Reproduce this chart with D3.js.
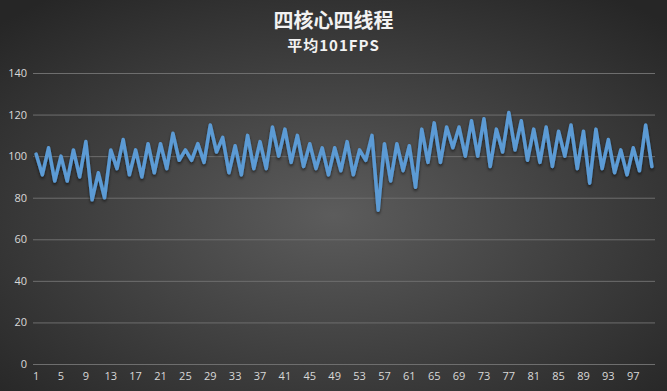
<!DOCTYPE html>
<html>
<head>
<meta charset="utf-8">
<script src="https://cdn.jsdelivr.net/npm/d3@7/dist/d3.min.js"></script>
<style>
  html, body { margin: 0; padding: 0; background: #2a2a2a; }
  svg { display: block; }
</style>
</head>
<body>
<div id="chart"></div>
<script>
// frame numbers 1..100 and fps per frame
const frames = d3.range(1, 101)
const fps = [
  101, 91, 104, 88, 100, 88, 103, 90, 107, 79,
  92, 80, 103, 94, 108, 91, 103, 90, 106, 92,
  106, 94, 111, 98, 103, 98, 106, 97, 115, 102,
  109, 92, 105, 91, 110, 94, 107, 94, 114, 100,
  113, 97, 110, 95, 106, 94, 104, 91, 104, 93,
  107, 91, 103, 98, 110, 74, 106, 88, 106, 93,
  105, 85, 113, 97, 116, 97, 114, 104, 114, 100,
  117, 100, 118, 95, 113, 102, 121, 103, 117, 98,
  113, 97, 114, 95, 112, 100, 115, 94, 112, 87,
  113, 94, 108, 92, 103, 91, 104, 93, 115, 95
]
const yTicks = [0, 20, 40, 60, 80, 100, 120, 140]
const xTickLabels = d3.range(1, 101, 4)

const title = "四核心四线程"
const subtitle = "平均101FPS"

const dimensions = {
  width: 667,
  height: 391,
  margin: { top: 73, right: 12, bottom: 27, left: 33 }
}
dimensions.boundedWidth = dimensions.width - dimensions.margin.left - dimensions.margin.right
dimensions.boundedHeight = dimensions.height - dimensions.margin.top - dimensions.margin.bottom

const wrapper = d3.select("#chart")
  .append("svg")
  .attr("width", dimensions.width)
  .attr("height", dimensions.height)

const defs = wrapper.append("defs")
const bg = defs.append("radialGradient")
  .attr("id", "bg")
  .attr("cx", "50%").attr("cy", "55%").attr("r", "70%")
bg.append("stop").attr("offset", "0%").attr("stop-color", "#5c5c5c")
bg.append("stop").attr("offset", "100%").attr("stop-color", "#262626")

const shadow = defs.append("filter")
  .attr("id", "shadow")
  .attr("x", "-5%").attr("y", "-20%").attr("width", "110%").attr("height", "140%")
shadow.append("feDropShadow")
  .attr("dx", 0).attr("dy", 2).attr("stdDeviation", 1.5)
  .attr("flood-color", "#000").attr("flood-opacity", 0.6)

wrapper.append("rect")
  .attr("width", dimensions.width)
  .attr("height", dimensions.height)
  .attr("fill", "url(#bg)")

// titles
wrapper.append("text")
  .attr("x", dimensions.width / 2)
  .attr("y", 28)
  .attr("text-anchor", "middle")
  .attr("fill", "#f2f2f2")
  .style("font", "bold 20px 'Noto Sans CJK SC', sans-serif")
  .text(title)

wrapper.append("text")
  .attr("x", dimensions.width / 2)
  .attr("y", 51)
  .attr("text-anchor", "middle")
  .attr("fill", "#f2f2f2")
  .style("font", "bold 15px 'Noto Sans CJK SC', sans-serif")
  .style("letter-spacing", "1px")
  .text(subtitle)

const bounds = wrapper.append("g")
  .attr("transform", `translate(${dimensions.margin.left},${dimensions.margin.top})`)

const xScale = d3.scaleBand()
  .domain(frames)
  .range([0, dimensions.boundedWidth])

const yScale = d3.scaleLinear()
  .domain([0, 140])
  .range([dimensions.boundedHeight, 0])

// gridlines + y labels
const yAxis = bounds.append("g")
  .call(d3.axisLeft(yScale)
    .tickValues(yTicks)
    .tickSize(-dimensions.boundedWidth)
    .tickPadding(6))
yAxis.select(".domain").remove()
yAxis.selectAll(".tick line")
  .attr("stroke", "#6e6e6e")
  .attr("stroke-width", 1)
yAxis.selectAll(".tick text")
  .attr("fill", "#d9d9d9")
  .style("font", "11px 'Open Sans', sans-serif")

// x labels
const xAxis = bounds.append("g")
  .attr("transform", `translate(0,${dimensions.boundedHeight})`)
  .call(d3.axisBottom(xScale)
    .tickValues(xTickLabels)
    .tickSize(0)
    .tickPadding(8))
xAxis.select(".domain").remove()
xAxis.selectAll(".tick text")
  .attr("fill", "#d9d9d9")
  .style("font", "11px 'Open Sans', sans-serif")

// line
const line = d3.line()
  .x((d, i) => xScale(frames[i]) + xScale.bandwidth() / 2)
  .y(d => yScale(d))

bounds.append("path")
  .datum(fps)
  .attr("d", line)
  .attr("fill", "none")
  .attr("stroke", "#5b9bd5")
  .attr("stroke-width", 3.5)
  .attr("stroke-linejoin", "round")
  .attr("stroke-linecap", "round")
  .attr("filter", "url(#shadow)")
</script>
</body>
</html>
